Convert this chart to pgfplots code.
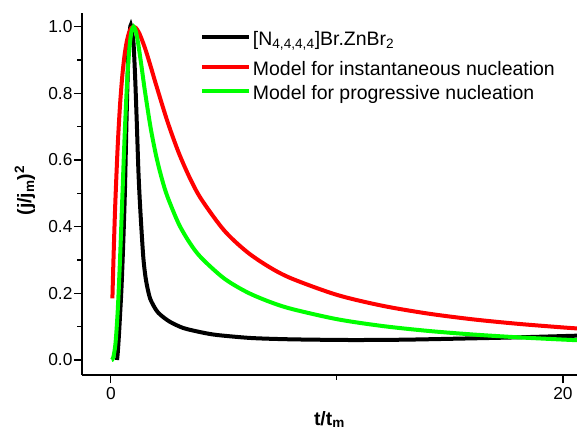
\documentclass[border=0pt]{standalone}
\usepackage{fontspec}
\setmainfont{Liberation Sans}
\usepackage{pgfplots}
\pgfplotsset{compat=1.18}
\definecolor{rred}{RGB}{255,0,0}
\definecolor{ggreen}{RGB}{0,255,0}
\pgfplotsset{tallleg/.style={legend image code/.code={%
  \draw[##1] (0pt,1.8pt) -- (35pt,1.8pt); \path (0pt,-10.5pt);}}}
\begin{document}
\begin{tikzpicture}[x=0.75pt,y=0.75pt]
\begin{axis}[
  at={(0,0)}, anchor=south west,
  scale only axis, width=371.25pt, height=271.5pt,
  xmin=-1.28, xmax=20.62, ymin=-0.045, ymax=1.041,
  axis lines*=left, axis line style={line width=1pt, -},
  xtick={0,20}, minor xtick={10},
  ytick={0,0.2,0.4,0.6,0.8,1.0}, minor ytick={0.1,0.3,0.5,0.7,0.9},
  tick align=outside, major tick length=6pt, minor tick length=3.5pt,
  every tick/.style={line width=0.8pt, black},
  /pgf/number format/assume math mode=true,
  yticklabel style={/pgf/number format/fixed, /pgf/number format/fixed zerofill,
    /pgf/number format/precision=1, inner sep=1pt},
  tick label style={font=\fontsize{13}{15}\selectfont},
  xlabel={\textbf{t/t\textsubscript{m}}},
  ylabel={\textbf{(j/j\textsubscript{m})\textsuperscript{2}}},
  label style={font=\fontsize{14.5}{16}\selectfont},
  xlabel style={at={(axis description cs:0.5,0)}, anchor=base, yshift=-37.5pt},
  ylabel style={at={(axis description cs:-0.1152,0.51)}, anchor=center},
  legend style={draw=none, fill=none, at={(0.2384,0.955)}, anchor=north west,
    font=\fontsize{14.6}{16}\selectfont, inner sep=0pt, column sep=0pt,
    row sep=3pt, nodes={inner sep=1.5pt}},
  legend cell align=left,
  legend image code/.code={\draw[#1] (0pt,1.8pt) -- (35pt,1.8pt);},
  every axis plot/.append style={line width=3pt},
]
\addplot[black, smooth, tension=0.45, tallleg] coordinates {
(0.27,0.0)(0.30,0.02)(0.35,0.07)(0.40,0.13)(0.47,0.22)(0.55,0.36)(0.62,0.51)
(0.69,0.72)(0.77,0.92)(0.84,0.99)(0.88,1.005)(0.93,0.985)(1.0,0.95)(1.07,0.85)
(1.14,0.72)(1.22,0.56)(1.30,0.45)(1.43,0.31)(1.55,0.24)(1.73,0.185)(2.0,0.15)
(2.2,0.135)(2.6,0.115)(3.2,0.096)(4.0,0.083)(4.7,0.075)(6.2,0.066)(8,0.062)
(10.6,0.060)(13,0.061)(16,0.065)(18,0.068)(20.62,0.073)};
\addlegendentry{[N\textsubscript{4,4,4,4}]Br.ZnBr\textsubscript{2}}
\addplot[rred, smooth] coordinates {
(0.065,0.1849)(0.1,0.2724)(0.15,0.3844)(0.2,0.4825)(0.3,0.6424)(0.4,0.7623)
(0.5,0.8503)(0.6,0.9129)(0.7,0.9553)(0.8,0.9819)(0.9,0.9958)(1.0,0.9999)
(1.1,0.9964)(1.25,0.9808)(1.5,0.9371)(1.75,0.8827)(2.0,0.8252)(2.5,0.7156)
(3.0,0.6217)(3.5,0.5447)(4.0,0.4822)(5.0,0.3894)(6.0,0.3254)(7.0,0.2791)
(8.0,0.2443)(10,0.1954)(12,0.1629)(14,0.1396)(16,0.1221)(18,0.1086)
(20,0.0977)(20.62,0.0948)};
\addlegendentry{Model for instantaneous nucleation}
\addplot[ggreen, smooth] coordinates {
(0.03,0.0002)(0.1,0.0065)(0.2,0.0488)(0.3,0.1469)(0.4,0.2981)(0.5,0.4797)
(0.6,0.6608)(0.7,0.8137)(0.8,0.9221)(0.9,0.9822)(1.0,1.0)(1.1,0.9861)
(1.2,0.9518)(1.35,0.8822)(1.5,0.8085)(1.75,0.6991)(2.0,0.6126)(2.25,0.5446)
(2.5,0.4902)(3.0,0.4085)(3.5,0.3501)(4.0,0.3064)(5,0.2451)(6,0.2042)
(7,0.1751)(8,0.1532)(10,0.1225)(12,0.1021)(14,0.0875)(16,0.0766)
(18,0.0681)(20,0.0613)(20.62,0.0594)};
\addlegendentry{Model for progressive nucleation}
\end{axis}
\pgfresetboundingbox
\path[use as bounding box] (-82,-55) rectangle (495,375);
\end{tikzpicture}
\end{document}
